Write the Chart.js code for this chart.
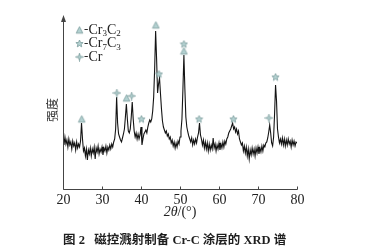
<!DOCTYPE html>
<html>
<head>
<meta charset="utf-8">
<script src="https://cdn.jsdelivr.net/npm/chart.js@4"></script>
<style>
  body { margin: 0; background: #fff; }
  #wrap { position: relative; width: 369px; height: 249px; }
  #caption {
    position: absolute; left: 63px; top: 229px;
    font: bold 12.5px "Liberation Serif", "Noto Sans CJK SC", serif;
    color: #1e1e1e; white-space: nowrap;
  }
</style>
</head>
<body>
<div id="wrap">
  <canvas id="chart-canvas" width="369" height="249"></canvas>
  <div id="caption">图 2&nbsp;&nbsp;&nbsp;磁控溅射制备 Cr-C 涂层的 XRD 谱</div>
</div>
<script>
// XRD intensity, one row per degree (2θ = x.00, x.25, x.50, x.75)
const intensity = [
  50, 44, 52, 45, // 20
  49, 42, 50, 44, // 21
  47, 40, 48, 43, // 22
  46, 39, 47, 41, // 23
  45, 42, 48, 66, // 24
  50, 38, 41, 33, // 25
  40, 29, 39, 35, // 26
  41, 33, 40, 36, // 27
  42, 30, 41, 37, // 28
  43, 35, 40, 37, // 29
  42, 34, 41, 38, // 30
  43, 36, 42, 39, // 31
  44, 40, 45, 42, // 32
  47, 50, 60, 92, // 33
  66, 55, 52, 49, // 34
  47, 51, 55, 60, // 35
  72, 85, 70, 58, // 36
  56, 60, 72, 87, // 37
  70, 58, 52, 56, // 38
  50, 55, 50, 54, // 39
  62, 44, 50, 55, // 40
  57, 59, 56, 62, // 41
  66, 69, 67, 70, // 42
  78, 92, 120, 158, // 43
  130, 96, 105, 111, // 44
  95, 80, 68, 62, // 45
  59, 56, 58, 53, // 46
  55, 50, 52, 46, // 47
  49, 43, 47, 41, // 48
  46, 42, 48, 45, // 49
  52, 58, 70, 100, // 50
  134, 100, 72, 62, // 51
  57, 53, 50, 47, // 52
  51, 44, 49, 45, // 53
  50, 46, 52, 56, // 54
  66, 54, 50, 44, // 55
  49, 41, 47, 40, // 56
  46, 38, 45, 39, // 57
  44, 40, 51, 41, // 58
  45, 38, 44, 40, // 59
  46, 39, 45, 41, // 60
  47, 42, 48, 45, // 61
  50, 52, 56, 58, // 62
  60, 63, 66, 60, // 63
  62, 57, 60, 55, // 64
  58, 50, 47, 44, // 65
  46, 38, 43, 36, // 66
  42, 33, 40, 30, // 67
  39, 34, 41, 35, // 68
  40, 33, 41, 36, // 69
  42, 35, 41, 37, // 70
  43, 38, 44, 42, // 71
  46, 47, 51, 57, // 72
  64, 56, 46, 43, // 73
  52, 75, 104, 88, // 74
  60, 52, 46, 50, // 75
  45, 51, 44, 50, // 76
  43, 49, 44, 50, // 77
  45, 48, 42, 49, // 78
  44, 48, 43, 47, // 79
  46 // 80
];
const twoTheta = intensity.map((_, i) => 20 + i * 0.25);

// phase markers
const cr3c2Theta = [24.8, 36.3, 43.8, 51.0];
const cr3c2Y = [70, 91, 164, 138];
const cr7c3Theta = [40.1, 44.6, 51.0, 54.9, 63.7, 74.5];
const cr7c3Y = [70, 115, 145, 70, 70, 112];
const crTheta = [33.8, 37.6, 72.8];
const crY = [96, 93, 71];

const xTicks = [20, 30, 40, 50, 60, 70, 80];

const markFill = "#b3d1d1";
const markLine = "#7a9c9c";

// Marker images
function makeIcon(drawFn) {
  const c = document.createElement("canvas");
  c.width = 9; c.height = 9;
  const g = c.getContext("2d");
  g.fillStyle = markFill;
  g.strokeStyle = markLine;
  g.lineWidth = 0.8;
  g.beginPath();
  drawFn(g);
  g.closePath();
  g.fill();
  g.stroke();
  return c;
}
const triIcon = makeIcon((g) => {
  g.moveTo(4.5, 1.2); g.lineTo(7.8, 7.6); g.lineTo(1.2, 7.6);
});
const starIcon = makeIcon((g) => {
  for (let k = 0; k < 10; k++) {
    const r = k % 2 === 0 ? 3.8 : 1.7;
    const a = -Math.PI / 2 + k * Math.PI / 5;
    const px = 4.5 + r * Math.cos(a), py = 4.8 + r * Math.sin(a);
    k === 0 ? g.moveTo(px, py) : g.lineTo(px, py);
  }
});
const crIcon = makeIcon((g) => {
  g.moveTo(4.5, 0.5); g.lineTo(5.3, 3.7); g.lineTo(8.5, 4.5);
  g.lineTo(5.3, 5.3); g.lineTo(4.5, 8.5); g.lineTo(3.7, 5.3);
  g.lineTo(0.5, 4.5); g.lineTo(3.7, 3.7);
});

function pairs(xs, ys) {
  return xs.map((x, i) => ({ x: x, y: ys[i] }));
}

// Draws axes, tick labels, legend and titles
const decorPlugin = {
  id: "decor",
  afterDraw(chart) {
    const ctx = chart.ctx;
    const area = chart.chartArea;
    const xs = chart.scales.x;
    ctx.save();
    ctx.strokeStyle = "#444";
    ctx.fillStyle = "#444";
    ctx.lineWidth = 1;
    const yx = Math.round(area.left) + 0.5;
    const xy = Math.round(area.bottom) + 0.5;
    // x axis line
    ctx.beginPath();
    ctx.moveTo(yx, xy);
    ctx.lineTo(Math.round(area.right) + 0.5, xy);
    ctx.stroke();
    // y axis with arrow
    ctx.beginPath();
    ctx.moveTo(yx, xy);
    ctx.lineTo(yx, area.top + 4);
    ctx.stroke();
    ctx.beginPath();
    ctx.moveTo(yx, area.top);
    ctx.lineTo(yx - 2.5, area.top + 7);
    ctx.lineTo(yx + 2.5, area.top + 7);
    ctx.closePath();
    ctx.fill();
    // inward x ticks and labels
    ctx.fillStyle = "#222";
    ctx.font = "14px 'Liberation Serif'";
    ctx.textAlign = "center";
    ctx.textBaseline = "middle";
    xTicks.forEach((t) => {
      const px = Math.round(xs.getPixelForValue(t)) + 0.5;
      ctx.beginPath();
      ctx.moveTo(px, xy);
      ctx.lineTo(px, xy - 3);
      ctx.stroke();
      ctx.fillText(String(t), px, area.bottom + 11);
    });

    // y title
    ctx.save();
    ctx.translate(52, 110);
    ctx.rotate(-Math.PI / 2);
    ctx.fillStyle = "#333";
    ctx.font = "12px 'Noto Sans CJK SC'";
    ctx.fillText("强度", 0, 0);
    ctx.restore();

    // x title 2θ/(°)
    ctx.textAlign = "left";
    const it = "italic 14px 'Liberation Serif'";
    const nm = "14px 'Liberation Serif'";
    ctx.font = it;
    const w1 = ctx.measureText("2θ").width;
    ctx.font = nm;
    const w2 = ctx.measureText("/(°)").width;
    const tx = (area.left + area.right) / 2 - (w1 + w2) / 2;
    ctx.font = it;
    ctx.fillText("2θ", tx, 212);
    ctx.font = nm;
    ctx.fillText("/(°)", tx + w1, 212);

    // legend
    const items = [
      { icon: triIcon, parts: [["Cr"], ["3", 1], ["C"], ["2", 1]] },
      { icon: starIcon, parts: [["Cr"], ["7", 1], ["C"], ["3", 1]] },
      { icon: crIcon, parts: [["Cr"]] },
    ];
    items.forEach((item, i) => {
      const ly = 30 + i * 13.5;
      ctx.drawImage(item.icon, 75, ly - 4.5);
      ctx.font = "13px 'Liberation Serif'";
      ctx.fillText("-", 84, ly);
      let lx = 88.5;
      item.parts.forEach((p) => {
        if (p[1]) {
          ctx.font = "9px 'Liberation Serif'";
          ctx.fillText(p[0], lx, ly + 4);
        } else {
          ctx.font = "14px 'Liberation Serif'";
          ctx.fillText(p[0], lx, ly);
        }
        lx += ctx.measureText(p[0]).width;
      });
    });
    ctx.restore();
  },
};

const ctx = document.getElementById("chart-canvas").getContext("2d");
const xrdChart = new Chart(ctx, {
  type: "line",
  data: {
    datasets: [
      {
        type: "scatter",
        data: pairs(cr3c2Theta, cr3c2Y),
        pointStyle: triIcon,
        order: 0,
      },
      {
        type: "scatter",
        data: pairs(cr7c3Theta, cr7c3Y),
        pointStyle: starIcon,
        order: 0,
      },
      {
        type: "scatter",
        data: pairs(crTheta, crY),
        pointStyle: crIcon,
        order: 0,
      },
      {
        label: "XRD",
        data: pairs(twoTheta, intensity),
        borderColor: "#141414",
        borderWidth: 1.1,
        pointRadius: 0,
        tension: 0,
        order: 1,
      },
    ],
  },
  options: {
    responsive: false,
    animation: false,
    events: [],
    layout: { padding: { left: 63, right: 72, top: 15, bottom: 60 } },
    plugins: { legend: { display: false }, tooltip: { enabled: false } },
    scales: {
      x: { type: "linear", display: false, min: 20, max: 80 },
      y: { display: false, min: 0, max: 174 },
    },
  },
  plugins: [decorPlugin],
});
</script>
</body>
</html>
